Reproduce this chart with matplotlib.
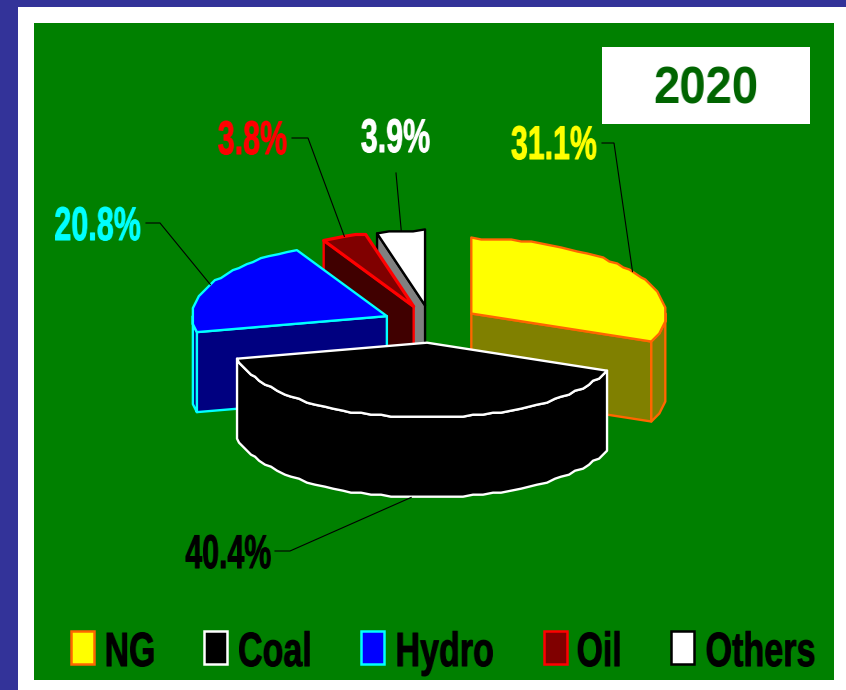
import numpy as np
import matplotlib
matplotlib.use("Agg")
import matplotlib.pyplot as plt
import matplotlib.patheffects as pe
from matplotlib.patches import Polygon, Rectangle

# Fuel shares for 2020, clockwise from twelve o'clock
fuels = ["NG", "Coal", "Hydro", "Oil", "Others"]
shares = [31.1, 40.4, 20.8, 3.8, 3.9]
share_labels = ["31.1%", "40.4%", "20.8%", "3.8%", "3.9%"]
year_label = "2020"

top_colors = ["#FFFF00", "#000000", "#0000FF", "#800000", "#FFFFFF"]
wall_colors = ["#808000", "#000000", "#000080", "#400000", "#808080"]
edge_colors = ["#FF6600", "#FFFFFF", "#00FFFF", "#FF0000", "#000000"]
label_colors = ["#FFFF00", "#000000", "#00FFFF", "#FF0000", "#FFFFFF"]

# Pie geometry in figure pixels
CX, CY = 431, 324
RX, RY = 194.5, 75
DEPTH = 80
EXPLODE = 0.25
BASE_ANGLE = 270.0

# Label anchors: horizontal centre, baseline, and the elbow of each leader line
label_xy = [(554, 159), (228.5, 568), (98, 240), (252.5, 154), (395.5, 152)]
leader_xy = [((602, 143), (614, 143)), ((275, 551), (290, 551)),
             ((146, 223), (160, 223)), ((292, 138), (308, 138)),
             ((396, 173), (396, 173))]
legend_x = [71, 204, 361, 544, 671]
legend_text_cx = [130, 275.5, 445, 599.5, 760.5]


def squeeze(ratio):
    """Agg filter narrowing a rendered text horizontally about its centre."""
    def apply(img, dpi):
        h, w, c = img.shape
        prem = img.copy()
        prem[..., :3] *= prem[..., 3:4]
        nw = max(1, int(round(w * ratio)))
        edges = np.linspace(0, w, nw + 1)
        cum = np.concatenate([np.zeros((h, 1, c)), np.cumsum(prem, axis=1)], axis=1)
        idx = np.floor(edges).astype(int).clip(0, w - 1)
        frac = (edges - idx)[None, :, None]
        vals = cum[:, idx] + frac * prem[:, idx]
        out = (vals[:, 1:] - vals[:, :-1]) * nw / w
        alpha = np.clip(out[..., 3:4], 1e-6, 1)
        out[..., :3] = np.clip(out[..., :3] / alpha, 0, 1)
        out[..., 3] = np.clip(out[..., 3], 0, 1)
        return out, (w - nw) // 2, 0
    return apply


def rim(start, stop, step=3.0):
    """Rim offsets along an arc, stepped the way a coarse metafile outline is."""
    n = max(2, int(abs(stop - start) / step) + 1)
    t = np.radians(np.linspace(start, stop, n))
    x = np.round(RX * np.cos(t) / 2.0) * 2.0
    y = np.round(RY * np.sin(t) / 2.0) * 2.0
    return np.column_stack([x, y])


fig = plt.figure(figsize=(8.46, 6.90), dpi=100, facecolor="#333399")
ax = fig.add_axes([0, 0, 1, 1])
ax.set_xlim(0, 846)
ax.set_ylim(690, 0)
ax.axis("off")

# Slide frame and chart panel
ax.add_patch(Rectangle((18, 7), 828, 683, fc="white", ec="none", zorder=0))
ax.add_patch(Rectangle((34, 23), 800, 657, fc="#008000", ec="none", zorder=0))
ax.add_patch(Rectangle((602, 47), 208, 77, fc="white", ec="none", zorder=1))
year = ax.text(706, 104, year_label, color="#006400", fontsize=37, fontweight="bold",
               family="Liberation Sans", ha="center", va="baseline", zorder=2)
year.set_agg_filter(squeeze(0.92))

# Angular extent of every slice
sweeps = 360.0 * np.array(shares) / np.sum(shares)
starts = BASE_ANGLE + np.concatenate([[0], np.cumsum(sweeps)[:-1]])
stops = starts + sweeps

slices = []
for i, (a, b) in enumerate(zip(starts, stops)):
    mid = np.radians((a + b) / 2)
    apex = np.array([CX + EXPLODE * RX * np.cos(mid), CY + EXPLODE * RY * np.sin(mid)])
    slices.append((a, b, mid, apex))

# Back slices first so that the coal slice sits on top of the others
base_z = {3: 10, 4: 9, 2: 20, 0: 30, 1: 40}
for i, (a, b, mid, apex) in enumerate(slices):
    z = base_z[i]
    edge = edge_colors[i]
    lw = 1.7
    down = np.array([0, DEPTH])
    rim_pts = apex + rim(a, b)

    # Cut faces turned toward the viewer
    for ang, first in ((a, True), (b, False)):
        c = np.cos(np.radians(ang))
        if (first and c < -1e-6) or (not first and c > 1e-6):
            p = rim_pts[0] if first else rim_pts[-1]
            ax.add_patch(Polygon([apex, p, p + down, apex + down], closed=True,
                                 fc=wall_colors[i], ec=edge, lw=lw, zorder=z,
                                 joinstyle="round"))

    # Outer wall where the rim faces the viewer
    for k in (0, 1):
        lo = max(a, 360.0 * k)
        hi = min(b, 360.0 * k + 180.0)
        if hi > lo:
            arc = apex + rim(lo, hi)
            ax.add_patch(Polygon(np.vstack([arc, (arc + down)[::-1]]), closed=True,
                                 fc=wall_colors[i], ec=edge, lw=lw, zorder=z + 1,
                                 joinstyle="round"))

    # Top face
    ax.add_patch(Polygon(np.vstack([apex, rim_pts]), closed=True,
                         fc=top_colors[i], ec=edge, lw=lw + (0.6 if i == 3 else 0),
                         zorder=z + 2, joinstyle="round"))

# Leader lines end on the rim at each slice's mid angle
for i, (a, b, mid, apex) in enumerate(slices):
    tip = apex + np.array([RX * np.cos(mid), RY * np.sin(mid)])
    if np.sin(mid) > 0:
        tip = tip + np.array([0, DEPTH])
    (x0, y0), (x1, y1) = leader_xy[i]
    ax.plot([x0, x1, tip[0]], [y0, y1, tip[1]], color="black", lw=0.8, zorder=50,
            solid_joinstyle="miter")

# Percentage labels
for i, txt in enumerate(share_labels):
    t = ax.text(label_xy[i][0], label_xy[i][1], txt, color=label_colors[i],
                fontsize=34, fontweight="bold", family="Liberation Sans",
                ha="center", va="baseline", zorder=60)
    t.set_path_effects([pe.withStroke(linewidth=0.8, foreground=label_colors[i])])
    t.set_agg_filter(squeeze(0.645))

# Legend
for i, name in enumerate(fuels):
    ax.add_patch(Rectangle((legend_x[i], 631), 23, 33, fc=top_colors[i], ec=edge_colors[i],
                           lw=1.8, zorder=60))
    t = ax.text(legend_text_cx[i], 666, name, color="black", fontsize=34.5,
                fontweight="bold", family="Liberation Sans", ha="center", va="baseline",
                zorder=60)
    t.set_path_effects([pe.withStroke(linewidth=0.8, foreground="black")])
    t.set_agg_filter(squeeze(0.71))

fig.savefig("out.png", dpi=100, facecolor=fig.get_facecolor())
